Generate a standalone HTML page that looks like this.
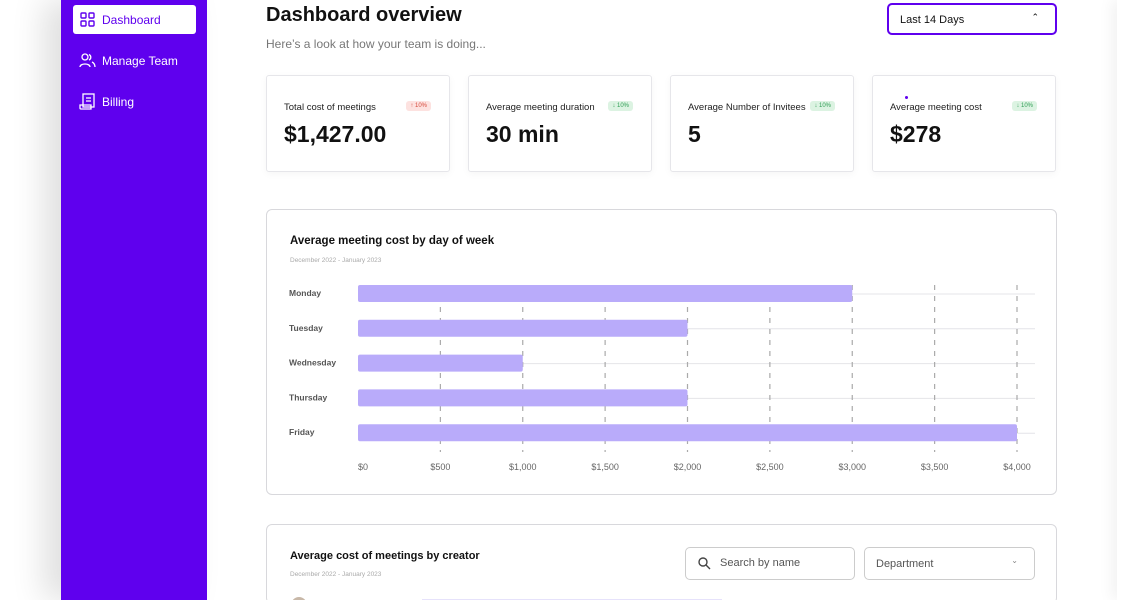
<!DOCTYPE html>
<html style="overflow:hidden;height:600px"><head><meta charset="utf-8">
<style>
*{box-sizing:border-box;margin:0;padding:0}
body{width:1146px;height:600px;overflow:hidden;background:#fff;font-family:"Liberation Sans",sans-serif;position:relative;color:#111}
.abs{position:absolute}
.side{left:61px;top:0;width:146px;height:600px;background:#5f00ee;box-shadow:-18px 0 30px rgba(0,0,0,0.12)}
.nav{position:absolute;left:12px;width:123px;height:29px;color:#fff;font-size:12px;display:flex;align-items:center;padding-left:29px}
.card{position:absolute;top:75px;width:184px;height:97px;border:1px solid #e6e6ea;border-radius:3px;background:#fff;box-shadow:0 2px 8px rgba(0,0,0,0.04)}
.card .t{position:absolute;left:17px;top:26px;font-size:9.5px;color:#222}
.card .v{position:absolute;left:17px;top:45px;font-size:23px;font-weight:bold;color:#111}
.badge{position:absolute;top:25px;right:18px;font-size:6px;padding:2px 4px;border-radius:3px}
.up{background:#fde2e0;color:#d5483a}.dn{background:#dcf3e2;color:#2e9d53}
.panel{position:absolute;left:266px;width:791px;border:1.5px solid #d8d8dc;border-radius:6px;background:#fff}
</style></head><body>
<div class="abs side">
 <div class="nav" style="top:5px;background:#fff;color:#5f00ee;border-radius:3px">
  <svg class="abs" style="left:7px;top:7px" width="15" height="15" viewBox="0 0 15 15" fill="none" stroke="#5f00ee" stroke-width="1.4"><rect x="1" y="1" width="5" height="5" rx="1"/><rect x="9" y="1" width="5" height="5" rx="1"/><rect x="1" y="9" width="5" height="5" rx="1"/><rect x="9" y="9" width="5" height="5" rx="1"/></svg>Dashboard</div>
 <div class="nav" style="top:46px">
  <svg class="abs" style="left:6px;top:7px" width="17" height="15" viewBox="0 0 17 15" fill="none" stroke="#fff" stroke-width="1.3"><circle cx="6" cy="4" r="3"/><path d="M1 14c0-4 10-4 10 0"/><path d="M10 1.5a3 3 0 010 5.5M13 9c2 1 3 3 3 5"/></svg>Manage Team</div>
 <div class="nav" style="top:87px">
  <svg class="abs" style="left:6px;top:6px" width="17" height="17" viewBox="0 0 17 17" fill="none" stroke="#fff" stroke-width="1.3"><rect x="4" y="1" width="11" height="13"/><path d="M1 12h11v4H2a1 1 0 01-1-1zM7 5h5M7 8h5"/></svg>Billing</div>
</div>
<div class="abs" style="left:1117px;top:0;width:29px;height:600px;background:#fff;box-shadow:-6px 0 14px rgba(0,0,0,0.05)"></div>

<div class="abs" style="left:266px;top:4px;font-size:20px;font-weight:bold;color:#111">Dashboard overview</div>
<div class="abs" style="left:266px;top:37px;font-size:12px;color:#777">Here’s a look at how your team is doing...</div>
<div class="abs" style="left:887px;top:3px;width:170px;height:32px;border:2px solid #5f00ee;border-radius:5px;font-size:11px;padding:9px 0 0 11px">Last 14 Days<span class="abs" style="right:16px;top:7px;font-size:9px">&#8963;</span></div>

<div class="card" style="left:266px"><div class="t">Total cost of meetings</div><div class="badge up">↑ 10%</div><div class="v">$1,427.00</div></div>
<div class="card" style="left:468px"><div class="t">Average meeting duration</div><div class="badge dn">↓ 10%</div><div class="v">30 min</div></div>
<div class="card" style="left:670px"><div class="t">Average Number of Invitees</div><div class="badge dn">↓ 10%</div><div class="v">5</div></div>
<div class="card" style="left:872px"><div class="t">Average meeting cost</div><div class="badge dn">↓ 10%</div><div class="v">$278</div><div class="abs" style="left:32px;top:20px;width:3px;height:3px;border-radius:50%;background:#5f00ee"></div></div>

<div class="panel" style="top:209px;height:286px">
 <div class="abs" style="left:23px;top:25px;font-size:11.5px;font-weight:bold">Average meeting cost by day of week</div>
 <div class="abs" style="left:23px;top:47px;font-size:6.5px;color:#aaa">December 2022 - January 2023</div>
</div>
<svg class="abs" style="left:0;top:0" width="1146" height="600" id="chart"></svg>

<div class="panel" style="top:524px;height:80px">
 <div class="abs" style="left:23px;top:25px;font-size:11px;font-weight:bold">Average cost of meetings by creator</div>
 <div class="abs" style="left:23px;top:46px;font-size:6.5px;color:#aaa">December 2022 - January 2023</div>
 <div class="abs" style="left:418px;top:22px;width:170px;height:33px;border:1.5px solid #ccc;border-radius:5px;font-size:11px;color:#555;padding:9px 0 0 34px"><svg class="abs" style="left:12px;top:9px" width="13" height="13" viewBox="0 0 13 13" fill="none" stroke="#444" stroke-width="1.4"><circle cx="5" cy="5" r="4"/><path d="M8 8l4 4"/></svg>Search by name</div>
 <div class="abs" style="left:597px;top:22px;width:171px;height:33px;border:1.5px solid #ccc;border-radius:5px;font-size:11px;color:#555;padding:10px 0 0 11px">Department<span class="abs" style="right:16px;top:8px;font-size:8px;color:#888">&#8964;</span></div>
 <div class="abs" style="left:155px;top:74px;width:300px;height:2px;background:#e6e2fb"></div>
 <div class="abs" style="left:24px;top:72px;width:16px;height:16px;border-radius:50%;background:#c8b8a8"></div>
</div>

<script>
const days=["Monday","Tuesday","Wednesday","Thursday","Friday"];
const costs=[3000,2000,1000,2000,4000];
const ticks=[0,500,1000,1500,2000,2500,3000,3500,4000];
const tickLabels=["$0","$500","$1,000","$1,500","$2,000","$2,500","$3,000","$3,500","$4,000"];
const NS="http://www.w3.org/2000/svg";
const svg=document.getElementById('chart');
const x=v=>358+v*(1017-358)/4000;
const y=i=>285+i*34.8;
function mk(t,a){const e=document.createElementNS(NS,t);for(const k in a)e.setAttribute(k,a[k]);svg.appendChild(e);return e;}
days.forEach((d,i)=>{
 const l=mk('line',{x1:x(0),x2:1035,y1:y(i)+9,y2:y(i)+9,stroke:'#e4e4e8','stroke-width':1});
 
 
});
ticks.forEach((t,i)=>{
 if(i>0){const g=mk('line',{x1:x(t),x2:x(t),y1:285,y2:452,stroke:'#aaa','stroke-width':1.2,'stroke-dasharray':'5,6'});
 
 }
 const tx=mk('text',{x:x(t)+(i==0?5:0),y:470,'text-anchor':'middle','font-size':'9','fill':'#666','font-family':'Liberation Sans, sans-serif'});
 tx.textContent=tickLabels[i];
 
 
});
days.forEach((d,i)=>{
 const b=mk('rect',{x:x(0),y:y(i),width:x(costs[i])-x(0),height:17,rx:2,fill:'#b9abfa'});
 
 
 const tx=mk('text',{x:289,y:y(i)+11,'font-size':'8.5','fill':'#555','font-weight':'bold','font-family':'Liberation Sans, sans-serif'});
 tx.textContent=d;
 
 
});
</script>
</body></html>
